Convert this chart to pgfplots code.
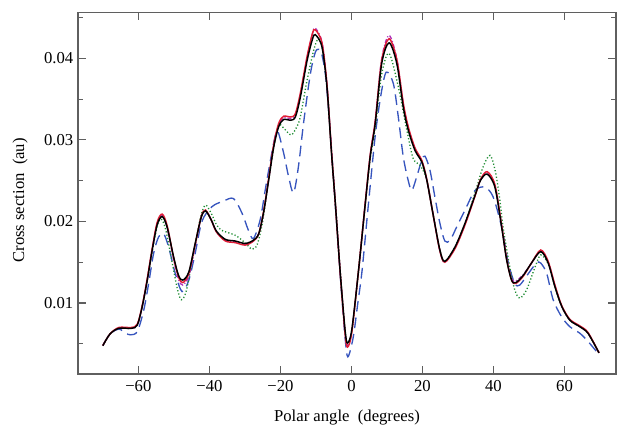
\documentclass[border=0pt]{standalone}
\usepackage{fontspec}
\setmainfont{Liberation Serif}
\usepackage{pgfplots}
\pgfplotsset{compat=1.18}
\usepackage{pgfplotstable}

\definecolor{cblue}{RGB}{55,85,190}
\definecolor{cgreen}{RGB}{30,140,50}
\definecolor{cred}{RGB}{225,30,55}
\definecolor{cmag}{RGB}{175,50,185}
\definecolor{axgray}{RGB}{95,95,95}

% black, red and magenta runs on one grid
\pgfplotstableread{
theta black red magenta
-70 0.00477 0.00480 0.00478
-68 0.0062 0.0062 0.0062
-65.5 0.0069 0.0070 0.0069
-62 0.0069 0.0070 0.0069
-60.3 0.0073 0.0074 0.0073
-58.9 0.0096 0.0097 0.0096
-57.5 0.0128 0.0130 0.0128
-56.1 0.0165 0.0167 0.0165
-54.7 0.0196 0.0199 0.0197
-53.3 0.0206 0.0209 0.0207
-51.9 0.0193 0.0195 0.0192
-50.1 0.0157 0.0156 0.0154
-48.7 0.0134 0.0132 0.0129
-47.5 0.0128 0.0125 0.0122
-45.8 0.0138 0.0136 0.0133
-44 0.0173 0.0172 0.0170
-42.3 0.0205 0.0206 0.0205
-41.1 0.0213 0.0214 0.0213
-39.5 0.0202 0.0202 0.0202
-38 0.0188 0.0187 0.0187
-35.5 0.0178 0.0176 0.0177
-32.7 0.0176 0.0174 0.0175
-29.9 0.0173 0.0171 0.0172
-27.6 0.0177 0.0176 0.0176
-26.1 0.0185 0.0185 0.0185
-24.7 0.0212 0.0213 0.0212
-23.3 0.0251 0.0253 0.0252
-21.9 0.0291 0.0294 0.0292
-20.5 0.0316 0.0320 0.0318
-19.1 0.0325 0.0329 0.0327
-17.2 0.0324 0.0328 0.0326
-15.8 0.0328 0.0332 0.0330
-14.4 0.0352 0.0357 0.0355
-12.5 0.0397 0.0402 0.0400
-11 0.0423 0.0430 0.0430
-10.2 0.0429 0.0435 0.0437
-8.3 0.0414 0.0419 0.0420
-6.9 0.0365 0.0368 0.0368
-5.6 0.0283 0.0285 0.0285
-4.5 0.0220 0.0220 0.0221
-3.2 0.0140 0.0139 0.0140
-1.8 0.0067 0.0063 0.0065
-1.1 0.0051 0.0046 0.0048
0.1 0.0067 0.0064 0.0066
2.0 0.0140 0.0140 0.0140
3.9 0.0222 0.0223 0.0223
5.3 0.0280 0.0282 0.0282
6.7 0.0320 0.0323 0.0323
8.5 0.0393 0.0397 0.0399
10.6 0.0419 0.0424 0.0428
12.8 0.0393 0.0398 0.0399
14.6 0.0340 0.0345 0.0344
16.0 0.0312 0.0316 0.0315
17.9 0.0287 0.0290 0.0289
19.8 0.0273 0.0275 0.0274
21.2 0.0251 0.0252 0.0251
23.1 0.0206 0.0206 0.0206
24.9 0.0165 0.0164 0.0164
26.3 0.0151 0.0150 0.0150
29.2 0.0169 0.0167 0.0168
32.0 0.0198 0.0196 0.0197
34.8 0.0232 0.0231 0.0232
36.3 0.0250 0.0251 0.0250
38.2 0.0258 0.0261 0.0259
40.4 0.0242 0.0245 0.0244
42.3 0.0193 0.0195 0.0195
43.7 0.0153 0.0154 0.0155
45.1 0.0128 0.0128 0.0130
46.3 0.0125 0.0124 0.0127
48.4 0.0134 0.0133 0.0135
50.7 0.0149 0.0149 0.0149
53.3 0.0163 0.0165 0.0164
55.4 0.0149 0.0151 0.0150
57.3 0.0120 0.0122 0.0121
59.2 0.0096 0.0097 0.0096
61.5 0.0079 0.0080 0.0079
64.3 0.0071 0.0072 0.0071
66.6 0.0063 0.0064 0.0063
69.7 0.0039 0.0039 0.0039
}\mainruns

\pgfplotstableread{
theta y
-70 0.0048
-68 0.0062
-65.5 0.0069
-62 0.0069
-60.3 0.0073
-58.9 0.0096
-57.5 0.0127
-56.1 0.0163
-54.7 0.0194
-53.6 0.0203
-52.3 0.0190
-50.5 0.0150
-49 0.0117
-47.9 0.0104
-46.5 0.0115
-44.5 0.0160
-42.5 0.0205
-41.1 0.0220
-39.5 0.0210
-38 0.0196
-36.5 0.0189
-32.7 0.0183
-30 0.0174
-28 0.0166
-26.5 0.0172
-25 0.0200
-23.5 0.0245
-21.9 0.0290
-20.5 0.0318
-19 0.0314
-17 0.0306
-15.5 0.0315
-14.4 0.0328
-12.5 0.0373
-10.5 0.0412
-9.3 0.0424
-8.3 0.0415
-6.9 0.0367
-5.6 0.0284
-4.5 0.0221
-3.2 0.0140
-1.8 0.0066
-1.1 0.0050
0.1 0.0066
2.0 0.0140
3.9 0.0221
5.3 0.0277
6.7 0.0315
8.5 0.0380
10.6 0.0406
13.2 0.0365
15.6 0.0312
17.4 0.0277
19.3 0.0269
21.2 0.0251
23.1 0.0206
24.9 0.0165
26.3 0.0151
29.2 0.0169
32.0 0.0198
34.8 0.0235
37.0 0.0266
39.0 0.0281
40.5 0.0262
41.8 0.0226
42.7 0.0193
44.6 0.0144
46.0 0.0116
47.4 0.0106
49.3 0.0116
51.7 0.0144
53.3 0.0159
55.4 0.0148
57.3 0.0120
59.2 0.0096
61.5 0.0079
64.3 0.0071
66.6 0.0063
69.7 0.0039
}\greenrun

\pgfplotstableread{
theta y
-70 0.0048
-68 0.0062
-65.5 0.0068
-63.5 0.0063
-62.2 0.0061
-60.3 0.0065
-58.5 0.0091
-57.1 0.0124
-55.7 0.0161
-54.3 0.0181
-52.9 0.0185
-51.5 0.0169
-49.6 0.0136
-47.7 0.0114
-45.8 0.0128
-44 0.0161
-42.1 0.0200
-39.3 0.0218
-36 0.0225
-33.2 0.0228
-30.8 0.0210
-29 0.0189
-27.6 0.0179
-25.7 0.0202
-24.3 0.0238
-23.3 0.0263
-21.8 0.0298
-20.8 0.0311
-19.1 0.0284
-17.7 0.0255
-16.3 0.0235
-14.9 0.0268
-13.5 0.0320
-11.6 0.0380
-10.2 0.0407
-9.2 0.0411
-8.3 0.0404
-7.2 0.0375
-5.8 0.0300
-4.3 0.0205
-3.0 0.0125
-1.8 0.0058
-1.0 0.0034
0.5 0.0058
1.8 0.0100
3.0 0.0140
4.8 0.0222
6.7 0.0305
8.3 0.0355
9.8 0.0383
11.8 0.0369
13.2 0.0328
14.6 0.0279
16.0 0.0250
17.0 0.0238
18.4 0.0255
19.8 0.0275
20.7 0.0280
22.1 0.0263
23.5 0.0230
24.9 0.0198
26.3 0.0176
27.8 0.0177
29.6 0.0193
32.0 0.0214
34.8 0.0238
37.6 0.0242
39.9 0.0230
42.3 0.0193
44.2 0.0149
46.0 0.0124
47.4 0.0122
49.8 0.0136
52.1 0.0149
53.3 0.0149
55.0 0.0136
56.8 0.0104
59.2 0.0083
61.5 0.0071
64.3 0.0063
66.6 0.0053
69.5 0.0038
}\bluerun

\begin{document}
\begin{tikzpicture}
\begin{axis}[
    scale only axis,
    width=403.5pt, height=271.3pt,
    xmin=-77, xmax=74.5,
    ymin=0.0013, ymax=0.04564,
    scaled y ticks=false,
    axis line style={axgray, line width=0.8pt},
    tick style={axgray, line width=0.8pt},
    tick align=inside,
    major tick length=6pt,
    minor tick length=3.5pt,
    xtick={-60,-40,...,60},
    xticklabels={−60,−40,−20,0,20,40,60},
    ytick={0.01,0.02,0.03,0.04},
    yticklabels={0.01,0.02,0.03,0.04},
    minor ytick={0.005,0.015,0.025,0.035,0.045},
    tick label style={font=\fontsize{12.5}{14}\selectfont, black},
    xticklabel style={yshift=-1pt},
    label style={font=\fontsize{12.5}{14}\selectfont},
    xlabel={Polar angle\ \ (degrees)},
    ylabel={Cross section\ \ (au)},
    xlabel style={at={(axis description cs:0.5,-0.1216)}, anchor=center},
    ylabel style={at={(axis description cs:-0.1078,0.48)}, anchor=center},
    every axis plot/.append style={smooth, tension=0.5},
]
\addplot[cblue, line width=1pt, dash pattern=on 8pt off 4.5pt] table[x=theta, y=y] {\bluerun};
\addplot[cgreen, line width=1pt, dash pattern=on 0.9pt off 1.6pt] table[x=theta, y=y] {\greenrun};
\addplot[cmag, line width=1pt, dash pattern=on 3pt off 1.5pt on 0.8pt off 1.5pt] table[x=theta, y=magenta] {\mainruns};
\addplot[cred, line width=1.1pt] table[x=theta, y=red] {\mainruns};
\addplot[black, line width=1.1pt] table[x=theta, y=black] {\mainruns};
\end{axis}
\path ([xshift=-58.5pt,yshift=-41.25pt]current axis.south west)
    rectangle ([xshift=0.75pt,yshift=9.2pt]current axis.north east);
\end{tikzpicture}
\end{document}
